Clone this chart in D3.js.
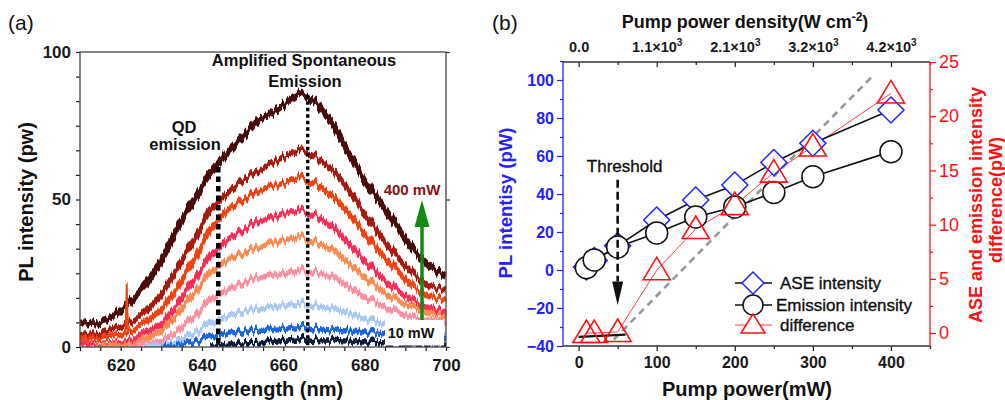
<!DOCTYPE html>
<html>
<head>
<meta charset="utf-8">
<script src="https://cdn.jsdelivr.net/npm/d3@7"></script>
<style>
  body { margin: 0; background: #fff; }
  svg { font-family: "Liberation Sans", Arial, sans-serif; }
</style>
</head>
<body>
<svg id="chart" width="1005" height="400"></svg>
<script>
// ---------- panel (a): PL spectra ----------
var wavelengths = [610, 614, 618, 622, 626, 630, 634, 638, 642, 646, 650, 654, 656, 660, 664, 666, 668, 672, 676, 680, 684, 688, 692, 696, 700];
// from the highest pump power (400 mW) down to the lowest (10 mW)
var spectrum400 = [7.5, 8, 10, 14.8, 20.5, 29.5, 40.8, 49.8, 58.9, 65.6, 71.3, 77.5, 78.1, 82, 86, 85, 83, 75.8, 65.6, 56.6, 48.7, 40.8, 32.9, 27.2, 23.8];
var spectrumB = [3.4, 4.5, 6, 8, 11.4, 18.1, 27.1, 36.2, 46.4, 52, 56.6, 60, 61.1, 64.5, 66.8, 66.2, 64.5, 60, 53.2, 45.3, 37.4, 30.6, 24.9, 20.4, 19.3];
var spectrumC = [2.3, 3, 3.8, 5, 8, 13, 20.4, 29.5, 39.6, 46.4, 49.8, 53.2, 53.8, 55.5, 57.7, 56.6, 55.5, 51, 45.3, 38.5, 31.7, 26.1, 20.4, 17, 15.9];
var spectrumD = [0.6, 0.8, 1.2, 2, 4.6, 8, 14.8, 22.7, 30.6, 36.2, 39.6, 43, 43, 45.3, 46.4, 45.8, 44.7, 40.7, 35, 29.4, 23.8, 19.3, 15.9, 13.1, 11.9];
var spectrumE = [null, 0.3, 0.5, 0.8, 2.3, 5.7, 11.4, 18.1, 25, 29.5, 31.7, 34, 34.6, 36.3, 37.4, 36.8, 35.7, 32.9, 28.3, 23.8, 19.3, 15.9, 13.6, 11.4, 10.2];
var spectrumF = [null, null, null, 0.3, 0.6, 2.3, 5.7, 10.2, 15.9, 19.3, 21.5, 23.8, 23.8, 25, 26.1, 26, 25.5, 23.8, 20.4, 17, 14.2, 11.9, 10.2, 9.1, 8];
var spectrumG = [null, null, null, null, 0.3, 0.6, 2.3, 4.6, 8, 10.2, 11.9, 13, 13, 14.2, 14.8, 14.6, 14.2, 13, 11.4, 9.7, 8, 6.9, 5.7, 4.6, 4];
var spectrumH = [null, null, null, null, null, 0.3, 0.8, 1.7, 3.4, 4.6, 5.1, 5.7, 5.7, 6.3, 6.9, 6.8, 6.3, 5.7, 5.4, 5.1, 4.6, 4, 3.7, 3.4, 2.8];
var spectrum10 = [null, null, null, null, null, null, null, null, 0.3, 0.6, 1, 1.3, 1.7, 2.2, 2.8, 2.7, 2.5, 2.3, 2, 1.7, 1.5, 1.2, 1, 0.8, 0.6];
var spikeWavelengths = [621.2, 621.5, 621.8];
var spikeValues = [5, 22, 5];
var spectrumColors = ['#4a0b0b', '#a8190e', '#f2420f', '#ff2d55', '#ff8a4f', '#ff8e9e', '#a9c9f5', '#1a66dd', '#0d1b3d'];
var guideWavelengths = [644, 666];   // QD emission, ASE
var guideTops = [61, 85.5];

// ---------- panel (b): intensities vs pump power ----------
var pumpPower = [10, 20, 50, 100, 150, 200, 250, 300, 400];
var aseIntensity = [1.6, 5, 12.7, 26.3, 36.8, 44.7, 56.6, 66.7, 84.2];
var emissionIntensity = [1.2, 5.3, 12.1, 19.5, 27.9, 33.2, 40.8, 49.1, 62.3];
var intensityDifference = [0, 0, 0.1, 5.8, 9.6, 11.8, 14.8, 17.2, 22.1];
var belowThresholdX = [0, 60];
var belowThresholdY = [-0.35, -0.15];
var slopeLineX = [45, 375];
var slopeLineY = [-0.6, 23.6];
var thresholdPower = 50;
var densityTickPower = [0, 100, 200, 300, 400];
var densityLabels = ['0.0', '1.1×10', '2.1×10', '3.2×10', '4.2×10'];
var densityExponents = ['', '3', '3', '3', '3'];

var FONT = '"Liberation Sans", Arial, sans-serif';
var svg = d3.select('#chart');
var defs = svg.append('defs');

function styleAxis(g, color, size, weight) {
  g.select('.domain').remove();
  g.attr('font-family', FONT).attr('font-size', size).attr('font-weight', weight);
  g.selectAll('.tick line').attr('stroke', color).attr('stroke-width', 1.2);
  g.selectAll('.tick text').attr('fill', color);
}

// ================= panel (a) =================
var xA = d3.scaleLinear().domain([610, 700]).range([80, 446]);
var yA = d3.scaleLinear().domain([0, 100]).range([347, 52]);

defs.append('clipPath').attr('id', 'clipA')
  .append('rect').attr('x', 80).attr('y', 40).attr('width', 366).attr('height', 307);

// jagged look of the measured traces: vertical-only jitter (texture, values stay as typed above)
var noisy = defs.append('filter').attr('id', 'noisy')
  .attr('filterUnits', 'userSpaceOnUse')
  .attr('color-interpolation-filters', 'sRGB')
  .attr('x', 60).attr('y', 30).attr('width', 410).attr('height', 340);
noisy.append('feTurbulence').attr('type', 'fractalNoise')
  .attr('baseFrequency', '0.45 0.002').attr('numOctaves', 2).attr('seed', 7).attr('result', 'n');
var ct = noisy.append('feComponentTransfer').attr('in', 'n').attr('result', 'm');
ct.append('feFuncR').attr('type', 'linear').attr('slope', 0).attr('intercept', 0.5);
ct.append('feFuncG').attr('type', 'linear').attr('slope', 2.2).attr('intercept', -0.6);
ct.append('feFuncA').attr('type', 'linear').attr('slope', 0).attr('intercept', 1);
noisy.append('feDisplacementMap').attr('in', 'SourceGraphic').attr('in2', 'm')
  .attr('scale', 6).attr('xChannelSelector', 'R').attr('yChannelSelector', 'G');

var spectra = [spectrum400, spectrumB, spectrumC, spectrumD, spectrumE, spectrumF, spectrumG, spectrumH, spectrum10];

var lineA = d3.line()
  .defined(function (d) { return d[1] != null; })
  .x(function (d) { return xA(d[0]); })
  .y(function (d) { return yA(d[1]); });

var spectraG = svg.append('g').attr('clip-path', 'url(#clipA)')
  .append('g').attr('filter', 'url(#noisy)');

spectraG.selectAll('path.spec')
  .data(spectra)
  .join('path')
  .attr('class', 'spec')
  .attr('d', function (s) { return lineA(wavelengths.map(function (w, i) { return [w, s[i]]; })); })
  .attr('fill', 'none')
  .attr('stroke', function (s, i) { return spectrumColors[i]; })
  .attr('stroke-width', function (s, i) { return i === 0 ? 6.2 : 5.4; })
  .attr('stroke-linejoin', 'round');

spectraG.append('path')
  .attr('d', lineA(spikeWavelengths.map(function (w, i) { return [w, spikeValues[i]]; })))
  .attr('fill', 'none').attr('stroke', spectrumColors[2]).attr('stroke-width', 1.8);

// dotted guide lines
svg.selectAll('line.guide')
  .data(guideWavelengths)
  .join('line')
  .attr('class', 'guide')
  .attr('x1', function (d) { return xA(d); }).attr('x2', function (d) { return xA(d); })
  .attr('y1', function (d, i) { return yA(guideTops[i]); }).attr('y2', yA(0))
  .attr('stroke', '#000')
  .attr('stroke-width', function (d, i) { return i === 0 ? 4.6 : 3.4; })
  .attr('stroke-dasharray', function (d, i) { return i === 0 ? '5.5,4' : '3.5,3'; });

// axes (a)
var axA = svg.append('g');
axA.append('g').attr('transform', 'translate(0,347)')
  .call(d3.axisBottom(xA).tickValues(d3.range(610, 701, 5)).tickSize(4).tickPadding(8)
    .tickFormat(function (d) { return d % 20 === 0 ? d : ''; }))
  .call(function (g) { styleAxis(g, '#1a1a1a', 17, 'bold'); });

axA.append('g').attr('transform', 'translate(80,0)')
  .call(d3.axisLeft(yA).tickValues(d3.range(0, 100.001, 50 / 6)).tickSize(4).tickPadding(5)
    .tickFormat(function (d) { var r = Math.round(d); return (Math.abs(d - r) < 1e-6 && r % 50 === 0) ? r : ''; }))
  .call(function (g) { styleAxis(g, '#1a1a1a', 17, 'bold'); });

axA.append('g').attr('transform', 'translate(446,0)')
  .call(d3.axisRight(yA).tickValues([0, 50, 100]).tickSize(4).tickFormat(''))
  .call(function (g) { styleAxis(g, '#333', 10, 'normal'); });

axA.append('rect').attr('x', xA(610)).attr('y', yA(100))
  .attr('width', xA(700) - xA(610)).attr('height', yA(0) - yA(100))
  .attr('fill', 'none').attr('stroke', '#444').attr('stroke-width', 1.3);

axA.append('text').attr('x', 263).attr('y', 396).attr('text-anchor', 'middle')
  .attr('font-size', 20).attr('font-weight', 'bold').attr('fill', '#111').text('Wavelength (nm)');
axA.append('text').attr('transform', 'translate(33,202) rotate(-90)').attr('text-anchor', 'middle')
  .attr('font-size', 20).attr('font-weight', 'bold').attr('fill', '#111').text('PL intensity (pw)');

// annotations (a)
var annA = svg.append('g').attr('font-weight', 'bold').attr('text-anchor', 'middle').attr('fill', '#111');
annA.append('text').attr('x', 304).attr('y', 66).attr('font-size', 16.5).text('Amplified Spontaneous');
annA.append('text').attr('x', 305).attr('y', 87).attr('font-size', 16.5).text('Emission');
annA.append('text').attr('x', 184).attr('y', 133).attr('font-size', 16.5).text('QD');
annA.append('text').attr('x', 185).attr('y', 150).attr('font-size', 16.5).text('emission');
annA.append('text').attr('x', 412).attr('y', 195).attr('font-size', 15).attr('fill', '#8b1212').text('400 mW');

svg.append('rect').attr('x', 385).attr('y', 320).attr('width', 59).attr('height', 25.5).attr('fill', '#fff');
svg.append('text').attr('x', 411).attr('y', 338).attr('text-anchor', 'middle').attr('font-size', 14.5)
  .attr('font-weight', 'bold').attr('fill', '#111').text('10 mW');

// green arrow
svg.append('line').attr('x1', 422).attr('x2', 422).attr('y1', 320).attr('y2', 222)
  .attr('stroke', '#148a14').attr('stroke-width', 3.5);
svg.append('path').attr('d', 'M414.5,227L422,200L429.5,227Z').attr('fill', '#148a14');

svg.append('text').attr('x', 8).attr('y', 30).attr('font-size', 21).attr('fill', '#111').text('(a)');
svg.append('text').attr('x', 492).attr('y', 30).attr('font-size', 21).attr('fill', '#111').text('(b)');

// ================= panel (b) =================
var xB = d3.scaleLinear().domain([-20, 450]).range([563, 930]);
var yL = d3.scaleLinear().domain([-40, 110]).range([346, 61]);
var yR = d3.scaleLinear().domain([-1.1, 25]).range([345, 62]);
var BLUE = '#2222ff', RED = '#ff1010';

var axB = svg.append('g');
// bottom
axB.append('g').attr('transform', 'translate(0,346)')
  .call(d3.axisBottom(xB).tickValues([0, 100, 200, 300, 400]).tickSize(5).tickPadding(6))
  .call(function (g) { styleAxis(g, '#1a1a1a', 16, 'bold'); });
axB.append('g').attr('transform', 'translate(0,346)')
  .call(d3.axisBottom(xB).tickValues([50, 150, 250, 350, 450]).tickSize(3).tickFormat(''))
  .call(function (g) { styleAxis(g, '#1a1a1a', 10, 'normal'); });
// top (inward ticks)
var topAxis = axB.append('g').attr('transform', 'translate(0,62)')
  .call(d3.axisTop(xB).tickValues(densityTickPower).tickSize(-5).tickPadding(10))
  .call(function (g) { styleAxis(g, '#1a1a1a', 14.5, 'bold'); });
topAxis.selectAll('.tick text').each(function (d, i) {
  var t = d3.select(this).text(null);
  t.append('tspan').text(densityLabels[i]);
  if (densityExponents[i]) {
    t.append('tspan').attr('font-size', 10).attr('dy', -6).text(densityExponents[i]);
  }
});
axB.append('g').attr('transform', 'translate(0,62)')
  .call(d3.axisTop(xB).tickValues([50, 150, 250, 350, 450]).tickSize(-3).tickFormat(''))
  .call(function (g) { styleAxis(g, '#1a1a1a', 10, 'normal'); });
// left
axB.append('g').attr('transform', 'translate(563,0)')
  .call(d3.axisLeft(yL).tickValues(d3.range(-40, 101, 20)).tickSize(6).tickPadding(3))
  .call(function (g) { styleAxis(g, BLUE, 16, 'bold'); });
axB.append('g').attr('transform', 'translate(563,0)')
  .call(d3.axisLeft(yL).tickValues(d3.range(-30, 111, 20)).tickSize(3).tickFormat(''))
  .call(function (g) { styleAxis(g, BLUE, 10, 'normal'); });
// right
axB.append('g').attr('transform', 'translate(930,0)')
  .call(d3.axisRight(yR).tickValues([0, 5, 10, 15, 20, 25]).tickSize(6).tickPadding(3))
  .call(function (g) { styleAxis(g, RED, 18, 'normal'); });
axB.append('g').attr('transform', 'translate(930,0)')
  .call(d3.axisRight(yR).tickValues([2.5, 7.5, 12.5, 17.5, 22.5]).tickSize(3).tickFormat(''))
  .call(function (g) { styleAxis(g, RED, 10, 'normal'); });
// frame lines
axB.append('line').attr('x1', 563).attr('x2', 930).attr('y1', 346).attr('y2', 346).attr('stroke', '#333').attr('stroke-width', 1.3);
axB.append('line').attr('x1', 563).attr('x2', 930).attr('y1', 62).attr('y2', 62).attr('stroke', '#333').attr('stroke-width', 1.3);
axB.append('line').attr('x1', 563).attr('x2', 563).attr('y1', 61).attr('y2', 346).attr('stroke', BLUE).attr('stroke-width', 1.3);
axB.append('line').attr('x1', 930).attr('x2', 930).attr('y1', 62).attr('y2', 346).attr('stroke', RED).attr('stroke-width', 1.3);

// titles
axB.append('text').attr('x', 745).attr('y', 28).attr('text-anchor', 'middle').attr('font-size', 18)
  .attr('font-weight', 'bold').attr('fill', '#111')
  .call(function (t) {
    t.append('tspan').text('Pump power density(W cm');
    t.append('tspan').attr('font-size', 12).attr('dy', -7).text('-2');
    t.append('tspan').attr('dy', 7).text(')');
  });
axB.append('text').attr('x', 747).attr('y', 396).attr('text-anchor', 'middle').attr('font-size', 20)
  .attr('font-weight', 'bold').attr('fill', '#111').text('Pump power(mW)');
axB.append('text').attr('transform', 'translate(512,203) rotate(-90)').attr('text-anchor', 'middle')
  .attr('font-size', 18.5).attr('font-weight', 'bold').attr('fill', BLUE).text('PL intentisy (pW)');
axB.append('text').attr('transform', 'translate(982,205) rotate(-90)').attr('text-anchor', 'middle')
  .attr('font-size', 18).attr('font-weight', 'bold').attr('fill', RED).text('ASE and emission intensity');
axB.append('text').attr('transform', 'translate(1002,200) rotate(-90)').attr('text-anchor', 'middle')
  .attr('font-size', 18).attr('font-weight', 'bold').attr('fill', RED).text('difference(pW)');

// gray dashed slope line and black below-threshold line
var plot = svg.append('g');
plot.append('line')
  .attr('x1', xB(slopeLineX[0])).attr('y1', yR(slopeLineY[0]))
  .attr('x2', xB(slopeLineX[1])).attr('y2', yR(slopeLineY[1]))
  .attr('stroke', '#999').attr('stroke-width', 2.6).attr('stroke-dasharray', '7,5');
plot.append('line')
  .attr('x1', xB(belowThresholdX[0])).attr('y1', yR(belowThresholdY[0]))
  .attr('x2', xB(belowThresholdX[1])).attr('y2', yR(belowThresholdY[1]))
  .attr('stroke', '#111').attr('stroke-width', 2.2);

// connecting lines
var lineL = d3.line().x(function (d) { return xB(d[0]); }).y(function (d) { return yL(d[1]); });
var lineR = d3.line().x(function (d) { return xB(d[0]); }).y(function (d) { return yR(d[1]); });
function pairs(ys) { return pumpPower.map(function (p, i) { return [p, ys[i]]; }); }

plot.append('path').attr('d', lineR(pairs(intensityDifference))).attr('fill', 'none').attr('stroke', '#ff4040').attr('stroke-width', 1);
plot.append('path').attr('d', lineL(pairs(aseIntensity))).attr('fill', 'none').attr('stroke', '#111').attr('stroke-width', 1.6);
plot.append('path').attr('d', lineL(pairs(emissionIntensity))).attr('fill', 'none').attr('stroke', '#111').attr('stroke-width', 1.6);

var diamondPath = 'M0,-13L13,0L0,13L-13,0Z';
var trianglePath = 'M0,-13L13.5,9.5L-13.5,9.5Z';

plot.selectAll('path.ase').data(pairs(aseIntensity)).join('path').attr('class', 'ase')
  .attr('transform', function (d) { return 'translate(' + xB(d[0]) + ',' + yL(d[1]) + ')'; })
  .attr('d', diamondPath).attr('fill', '#fff').attr('stroke', BLUE).attr('stroke-width', 1.5);
plot.selectAll('circle.em').data(pairs(emissionIntensity)).join('circle').attr('class', 'em')
  .attr('cx', function (d) { return xB(d[0]); }).attr('cy', function (d) { return yL(d[1]); })
  .attr('r', 11).attr('fill', '#fff').attr('stroke', '#111').attr('stroke-width', 1.5);
plot.selectAll('path.diff').data(pairs(intensityDifference)).join('path').attr('class', 'diff')
  .attr('transform', function (d) { return 'translate(' + xB(d[0]) + ',' + yR(d[1]) + ')'; })
  .attr('d', trianglePath).attr('fill', 'none').attr('stroke', RED).attr('stroke-width', 1.6);

// threshold arrow
var tx = xB(thresholdPower);
plot.append('line').attr('x1', tx).attr('x2', tx).attr('y1', yL(47.5)).attr('y2', yL(-6))
  .attr('stroke', '#111').attr('stroke-width', 2.6).attr('stroke-dasharray', '8,4');
plot.append('path').attr('d', 'M' + (tx - 5.5) + ',' + yL(-6) + 'L' + tx + ',' + yL(-18.5) + 'L' + (tx + 5.5) + ',' + yL(-6) + 'Z')
  .attr('fill', '#111');
plot.append('text').attr('x', tx + 7).attr('y', 172).attr('text-anchor', 'middle').attr('font-size', 17)
  .attr('fill', '#111').attr('stroke', '#111').attr('stroke-width', 0.35).text('Threshold');

// legend
var legend = svg.append('g').attr('font-size', 17).attr('fill', '#111');
var rows = [
  { y: 283, label: 'ASE intensity', tx: 780, line: '#111' },
  { y: 305, label: 'Emission intensity', tx: 776, line: '#111' },
  { y: 325, label: 'difference', tx: 780, line: '#ff4040' }
];
rows.forEach(function (r, i) {
  legend.append('line').attr('x1', 735).attr('x2', 772).attr('y1', r.y).attr('y2', r.y)
    .attr('stroke', r.line).attr('stroke-width', i === 2 ? 1.2 : 1.6);
  if (i === 0) {
    legend.append('path').attr('transform', 'translate(753,' + r.y + ')').attr('d', 'M0,-11L11,0L0,11L-11,0Z')
      .attr('fill', '#fff').attr('stroke', BLUE).attr('stroke-width', 1.5);
  } else if (i === 1) {
    legend.append('circle').attr('cx', 753).attr('cy', r.y).attr('r', 10)
      .attr('fill', '#fff').attr('stroke', '#111').attr('stroke-width', 1.5);
  } else {
    legend.append('path').attr('transform', 'translate(753,' + r.y + ')').attr('d', 'M0,-11L12,8L-12,8Z')
      .attr('fill', '#fff').attr('stroke', RED).attr('stroke-width', 1.5);
  }
  legend.append('text').attr('x', r.tx).attr('y', r.y + 6).attr('stroke', '#111').attr('stroke-width', 0.35).text(r.label);
});
</script>
</body>
</html>
